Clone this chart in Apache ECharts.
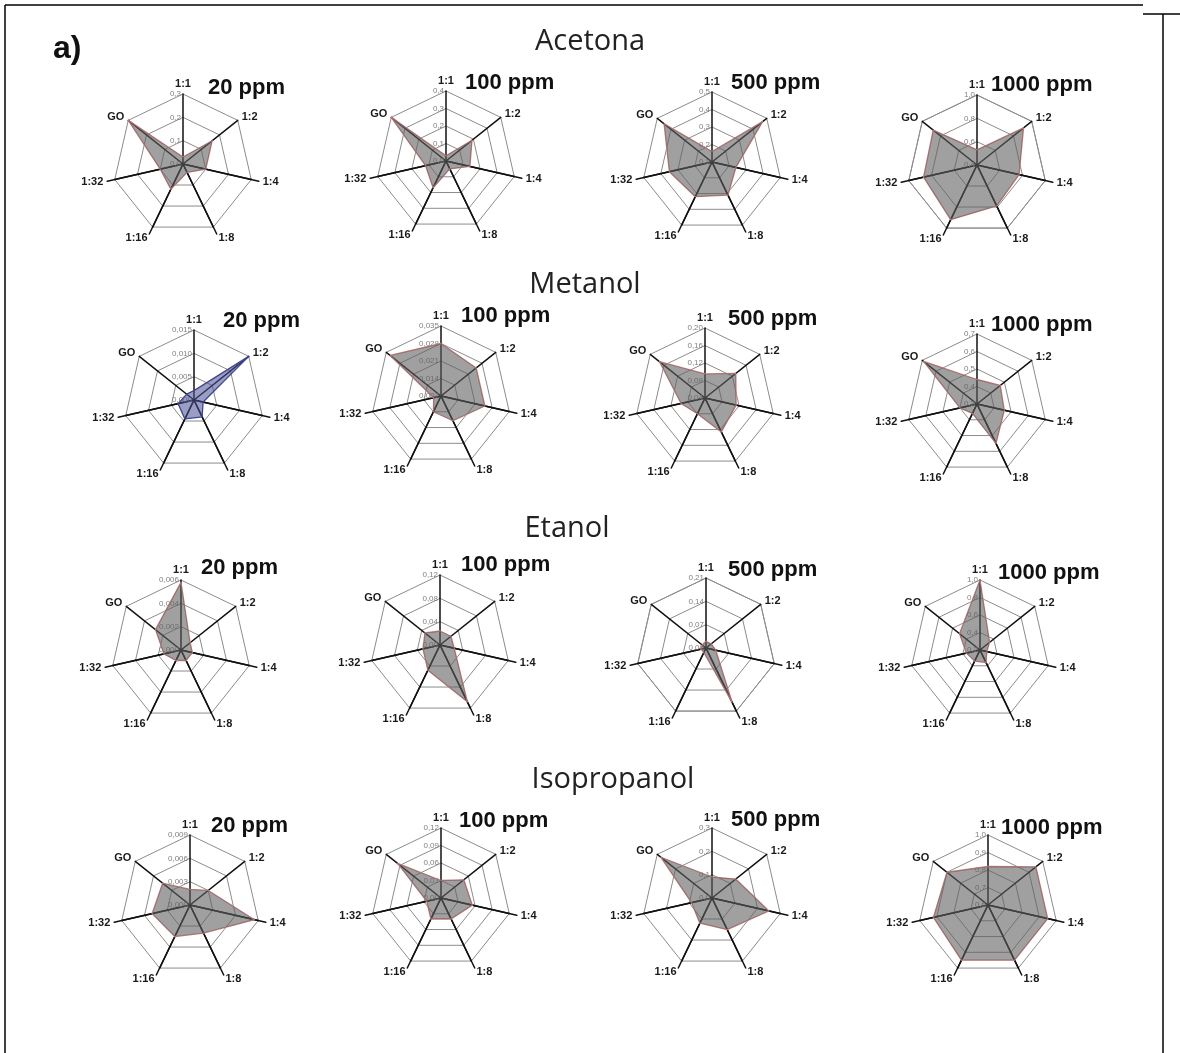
<!DOCTYPE html>
<html><head><meta charset="utf-8">
<script src="https://cdn.jsdelivr.net/npm/echarts@6/dist/echarts.min.js"></script>
<style>html,body{margin:0;padding:0;background:#fff}#c{width:1180px;height:1053px}</style>
</head><body><div id="c"></div><script>
// ---- DATA ----
const categories = ['1:1','1:2','1:4','1:8','1:16','1:32','GO'];
const compounds = ['Acetona','Metanol','Etanol','Isopropanol'];
const concentrations = ['20 ppm','100 ppm','500 ppm','1000 ppm'];

// radial tick labels (first = centre, last = outer ring)
const acetona20Ticks   = [0, 0.1, 0.2, 0.3];
const acetona100Ticks  = [0, 0.1, 0.2, 0.3, 0.4];
const acetona500Ticks  = [0.1, 0.2, 0.3, 0.4, 0.5];
const acetona1000Ticks = [0.4, 0.6, 0.8, 1.0];
const metanol20Ticks   = [0, 0.005, 0.010, 0.015];
const metanol100Ticks  = [0.007, 0.014, 0.021, 0.028, 0.035];
const metanol500Ticks  = [0.04, 0.08, 0.12, 0.16, 0.20];
const metanol1000Ticks = [0.3, 0.4, 0.5, 0.6, 0.7];
const etanol20Ticks    = [0, 0.002, 0.004, 0.006];
const etanol100Ticks   = [0, 0.04, 0.08, 0.12];
const etanol500Ticks   = [0, 0.07, 0.14, 0.21];
const etanol1000Ticks  = [0.2, 0.4, 0.6, 0.8, 1.0];
const isoprop20Ticks   = [0, 0.003, 0.006, 0.009];
const isoprop100Ticks  = [0, 0.03, 0.06, 0.09, 0.12];
const isoprop500Ticks  = [0, 0.1, 0.2, 0.3];
const isoprop1000Ticks = [0.6, 0.7, 0.8, 0.9, 1.0];

// values in category order: 1:1, 1:2, 1:4, 1:8, 1:16, 1:32, GO
const acetona20   = [0.03, 0.16, 0.10, 0.04, 0.12, 0.10, 0.30];
const acetona100  = [0.03, 0.19, 0.14, 0.05, 0.17, 0.12, 0.40];
const acetona500  = [0.16, 0.47, 0.24, 0.31, 0.32, 0.35, 0.45];
const acetona1000 = [0.53, 0.91, 0.77, 0.79, 0.92, 0.87, 0.88];
const metanol20   = [0.002, 0.015, 0.002, 0.004, 0.0045, 0.0035, 0.002];
const metanol100  = [0.028, 0.025, 0.025, 0.018, 0.014, 0.010, 0.033];
const metanol500  = [0.095, 0.13, 0.113, 0.126, 0.08, 0.096, 0.173];
const metanol1000 = [0.44, 0.47, 0.46, 0.55, 0.36, 0.40, 0.69];
const etanol20    = [0.0058, 0.001, 0.001, 0.001, 0.001, 0.0015, 0.0028];
const etanol100   = [0.024, 0.024, 0.025, 0.108, 0.048, 0.030, 0.033];
const etanol500   = [0.02, 0.02, 0.03, 0.18, 0.015, 0.015, 0.015];
const etanol1000  = [1.0, 0.34, 0.28, 0.36, 0.34, 0.36, 0.50];
const isoprop20   = [0.002, 0.003, 0.0085, 0.004, 0.0045, 0.005, 0.0045];
const isoprop100  = [0.03, 0.05, 0.055, 0.04, 0.04, 0.025, 0.095];
const isoprop500  = [0.09, 0.13, 0.25, 0.15, 0.12, 0.09, 0.28];
const isoprop1000 = [0.82, 0.95, 0.95, 0.95, 0.95, 0.92, 0.90];

const panels = [
  [acetona20, acetona20Ticks], [acetona100, acetona100Ticks], [acetona500, acetona500Ticks], [acetona1000, acetona1000Ticks],
  [metanol20, metanol20Ticks], [metanol100, metanol100Ticks], [metanol500, metanol500Ticks], [metanol1000, metanol1000Ticks],
  [etanol20, etanol20Ticks], [etanol100, etanol100Ticks], [etanol500, etanol500Ticks], [etanol1000, etanol1000Ticks],
  [isoprop20, isoprop20Ticks], [isoprop100, isoprop100Ticks], [isoprop500, isoprop500Ticks], [isoprop1000, isoprop1000Ticks]
];

// ---- LAYOUT ----
const centers = [
  [183,164],[446,161],[712,162],[977,165],
  [194,400],[441,396],[705,398],[977,404],
  [181,650],[440,645],[706,648],[980,650],
  [190,905],[441,898],[712,898],[988,905]
];
const ppmPos = [
  [203,72],[460,67],[726,67],[986,69],
  [218,305],[456,300],[723,303],[986,309],
  [196,552],[456,549],[723,554],[993,557],
  [206,810],[454,805],[726,804],[996,812]
];
const rowTitlePos = [[585,22],[580,265],[562,509],[608,760]];
const RADIUS = 70;
const EXT = 1.11;                 // lower axes run a little past the outer ring
// ECharts lays indicators counter-clockwise; reference is clockwise
const order = [0,6,5,4,3,2,1];
const extended = { '1:4': 1, '1:8': 1, '1:16': 1, '1:32': 1 };

function decimals(arr){
  let d = 0;
  arr.forEach(v => { const s = String(v); const i = s.indexOf('.'); if (i >= 0) d = Math.max(d, s.length - i - 1); });
  return d;
}

const nameStyle = { color: '#1a1a1a', fontWeight: 'bold', fontSize: 11, fontFamily: 'Arial, Liberation Sans' };
const radars = [], series = [], titles = [];
panels.forEach((p, i) => {
  const vals = p[0], ticks = p[1];
  const mn = ticks[0], mx = ticks[ticks.length - 1];
  const dec = decimals(ticks);
  const fmt = v => Number(v).toFixed(dec).replace('.', ',');
  // main grid
  radars.push({
    center: centers[i], radius: RADIUS, startAngle: 90, shape: 'polygon',
    splitNumber: ticks.length - 1,
    nameGap: 5,
    axisName: nameStyle,
    indicator: order.map((k, j) => {
      const c = categories[k];
      const ind = { name: extended[c] ? '' : c, min: mn, max: mx };
      if (c === 'GO' || c === '1:2') ind.name = c;
      if (j === 0) ind.axisLabel = { show: true, fontSize: 8, color: '#808080', formatter: fmt, margin: 2 };
      return ind;
    }),
    axisLine: { lineStyle: { color: '#111', width: 1.5 } },
    splitLine: { lineStyle: { color: '#8c8c8c', width: 1 } },
    splitArea: { show: false },
    axisTick: { show: false },
    axisLabel: { show: false, fontSize: 8, color: '#808080', formatter: fmt }
  });
  const blue = (i === 4);
  series.push({
    type: 'radar', radarIndex: i, silent: true, z: 3,
    symbol: 'none',
    data: [{
      value: order.map(k => vals[k]),
      areaStyle: { color: blue ? 'rgba(75,80,150,0.8)' : 'rgba(95,95,95,0.85)' },
      lineStyle: { color: blue ? '#3c4190' : '#c67a7a', width: 1.3 }
    }]
  });
  titles.push({ text: concentrations[i % 4], left: ppmPos[i][0], top: ppmPos[i][1],
    textStyle: { fontSize: 22, fontWeight: 'bold', color: '#111', fontFamily: 'Arial, Liberation Sans' } });
});
// extended axes (lower four spokes) carrying their names
panels.forEach((p, i) => {
  const ticks = p[1];
  radars.push({
    center: centers[i], radius: RADIUS * EXT, startAngle: 90, shape: 'polygon',
    splitNumber: ticks.length - 1,
    nameGap: 4,
    axisName: nameStyle,
    indicator: order.map(k => {
      const c = categories[k];
      const ind = { name: extended[c] ? c : '', min: ticks[0], max: ticks[ticks.length - 1] };
      if (!extended[c]) ind.axisLine = { show: false };
      return ind;
    }),
    axisLine: { show: true, lineStyle: { color: '#111', width: 1.5 } },
    splitLine: { show: false },
    splitArea: { show: false },
    axisTick: { show: false },
    axisLabel: { show: false }
  });
});
compounds.forEach((c, r) => {
  titles.push({ text: c, left: rowTitlePos[r][0], top: rowTitlePos[r][1], textAlign: 'center',
    textStyle: { fontSize: 29, fontWeight: 'normal', color: '#222', fontFamily: 'Open Sans, Noto Sans' } });
});
titles.push({ text: 'a)', left: 48, top: 28, textStyle: { fontSize: 32, fontWeight: 'bold', color: '#111', fontFamily: 'Arial, Liberation Sans' } });

const chart = echarts.init(document.getElementById('c'), null, { renderer: 'canvas' });
chart.setOption({
  backgroundColor: '#fff',
  animation: false,
  title: titles,
  radar: radars,
  series: series,
  graphic: [
    { type: 'line', shape: { x1: 5, y1: 5, x2: 1143, y2: 5 }, style: { stroke: '#000', lineWidth: 1.5 } },
    { type: 'line', shape: { x1: 1143, y1: 14, x2: 1180, y2: 14 }, style: { stroke: '#000', lineWidth: 1.5 } },
    { type: 'line', shape: { x1: 1163, y1: 14, x2: 1163, y2: 1053 }, style: { stroke: '#000', lineWidth: 1.5 } },
    { type: 'line', shape: { x1: 5, y1: 5, x2: 5, y2: 1053 }, style: { stroke: '#000', lineWidth: 1.5 } }
  ]
});
</script></body></html>
